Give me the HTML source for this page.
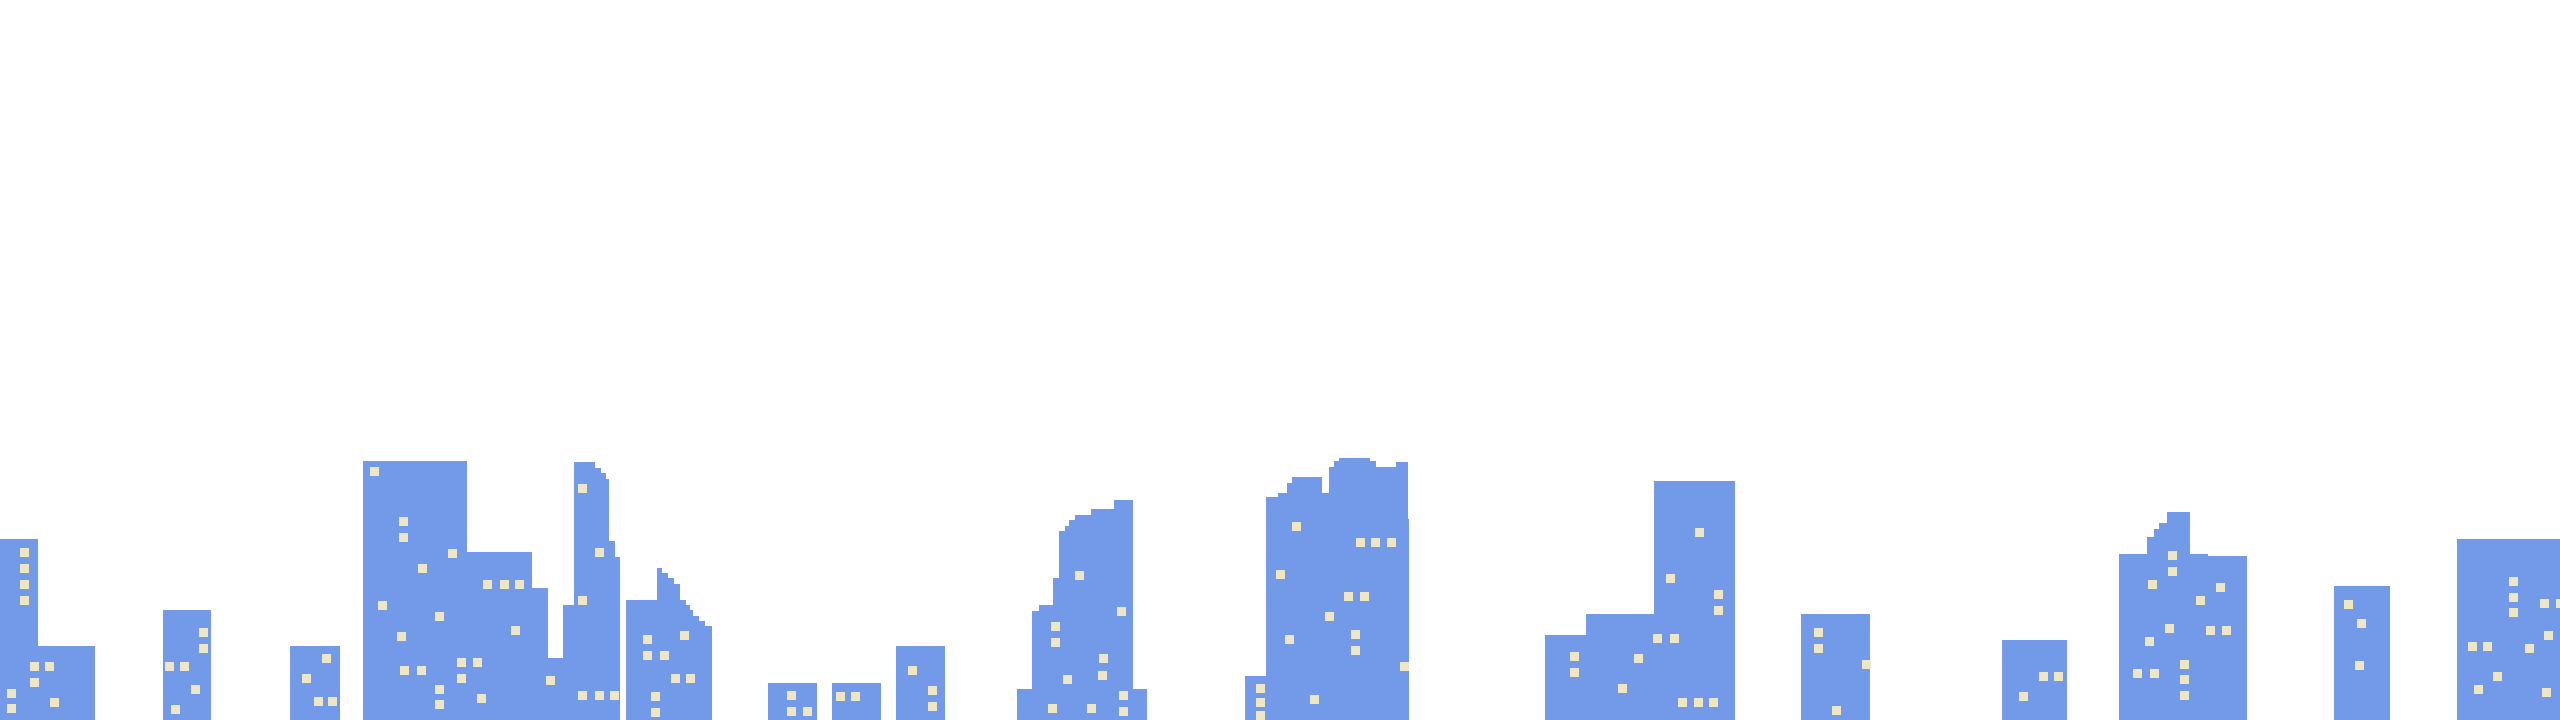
<!DOCTYPE html>
<html><head><meta charset="utf-8"><style>
html,body{margin:0;padding:0;background:#fff;width:2560px;height:720px;overflow:hidden}
svg{display:block}
</style></head><body>
<svg id="sky" width="2560" height="720" viewBox="0 0 2560 720" xmlns="http://www.w3.org/2000/svg">
<rect x="0" y="0" width="2560" height="720" fill="#ffffff"/>
<g id="bld" fill="#7399e9"></g>
<g id="win" fill="#efe6c6"></g>
</svg>
<script>
// building blocks: [x0, x1, top]
const blocks = [
[0,38,539],[0,95,646],
[163,211,610],
[290,340,646],
[363,467,461],[467,532,552],[532,548,588],[548,563,658],[563,574,605],
[574,595,462],[595,601,468],[601,606,473],[606,609,479],[609,615,541],[615,620,557],[615,619,611],
[626,686,600],[657,662,568],[662,668,573],[668,674,578],[674,680,584],[680,686,600],[686,690,605],[690,693,610],[693,699,616],[699,705,621],[705,712,626],
[768,817,683],[832,881,683],[896,945,646],
[1017,1147,689],[1032,1133,611],[1039,1133,605],[1053,1133,578],[1059,1133,531],[1065,1133,526],[1069,1133,520],[1075,1133,515],[1091,1133,509],[1114,1133,500],
[1245,1266,676],[1266,1409,519],[1266,1408,497],[1278,1322,493],[1287,1322,483],[1292,1322,477],[1322,1329,493],[1329,1408,467],[1334,1376,461],[1339,1370,458],[1396,1408,462],
[1545,1586,635],[1586,1654,614],[1654,1735,481],
[1801,1870,614],
[2002,2067,640],
[2119,2147,554],[2147,2190,537],[2154,2190,529],[2159,2190,523],[2167,2190,512],[2190,2208,554],[2208,2247,556],
[2334,2390,586],
[2457,2560,539]
];
// window positions: [x, y]
const windows = [
[20,548],[20,564],[20,580],[20,596],[30,662],[45,662],[30,678],[7,689],[7,704],[50,698],
[199,628],[199,644],[165,662],[180,662],[191,685],[171,705],
[322,654],[302,674],[314,697],[328,697],
[370,467],[399,517],[399,533],[448,549],[418,564],[483,580],[500,580],[515,580],[378,601],[435,612],[397,632],[511,626],[400,666],[417,666],[457,658],[473,658],[457,674],[435,685],[435,700],[477,694],[546,676],[578,484],[595,548],[578,596],[578,691],[595,691],[610,691],
[643,635],[643,651],[660,651],[680,631],[671,674],[686,674],[651,692],[651,708],
[787,691],[787,707],[803,707],[836,692],[851,692],[908,666],[928,686],[928,702],
[1075,571],[1117,607],[1051,622],[1051,638],[1099,654],[1063,675],[1098,671],[1119,691],[1048,704],[1087,704],[1119,707],
[1292,522],[1356,538],[1371,538],[1387,538],[1276,570],[1344,592],[1360,592],[1325,612],[1285,635],[1351,630],[1351,646],[1400,662],[1256,684],[1256,698],[1256,711],[1310,695],
[1695,528],[1666,574],[1714,590],[1714,606],[1653,634],[1670,634],[1570,652],[1570,668],[1634,654],[1618,684],[1678,698],[1694,698],[1709,698],
[1814,628],[1814,644],[1862,660],[1832,706],
[2039,672],[2054,672],[2019,692],
[2168,551],[2168,567],[2148,580],[2216,583],[2196,596],[2165,624],[2206,626],[2222,626],[2145,637],[2180,660],[2180,675],[2180,691],[2133,669],[2150,669],
[2344,600],[2357,619],[2355,661],
[2509,577],[2509,593],[2509,608],[2540,599],[2556,599],[2544,631],[2468,642],[2483,642],[2525,644],[2493,672],[2474,685],[2542,688]
];
const NS = "http://www.w3.org/2000/svg";
const GROUND = 720, WS = 9;
const bg = document.getElementById('bld');
blocks.forEach(b => {
  const r = document.createElementNS(NS, 'rect');
  r.setAttribute('x', b[0]); r.setAttribute('y', b[2]);
  r.setAttribute('width', b[1] - b[0]); r.setAttribute('height', GROUND - b[2]);
  
  
  bg.appendChild(r);
});
const wg = document.getElementById('win');
windows.forEach(w => {
  const r = document.createElementNS(NS, 'rect');
  r.setAttribute('x', w[0]); r.setAttribute('y', w[1]);
  r.setAttribute('width', WS); r.setAttribute('height', WS);
  
  
  wg.appendChild(r);
});
</script>
</body></html>
